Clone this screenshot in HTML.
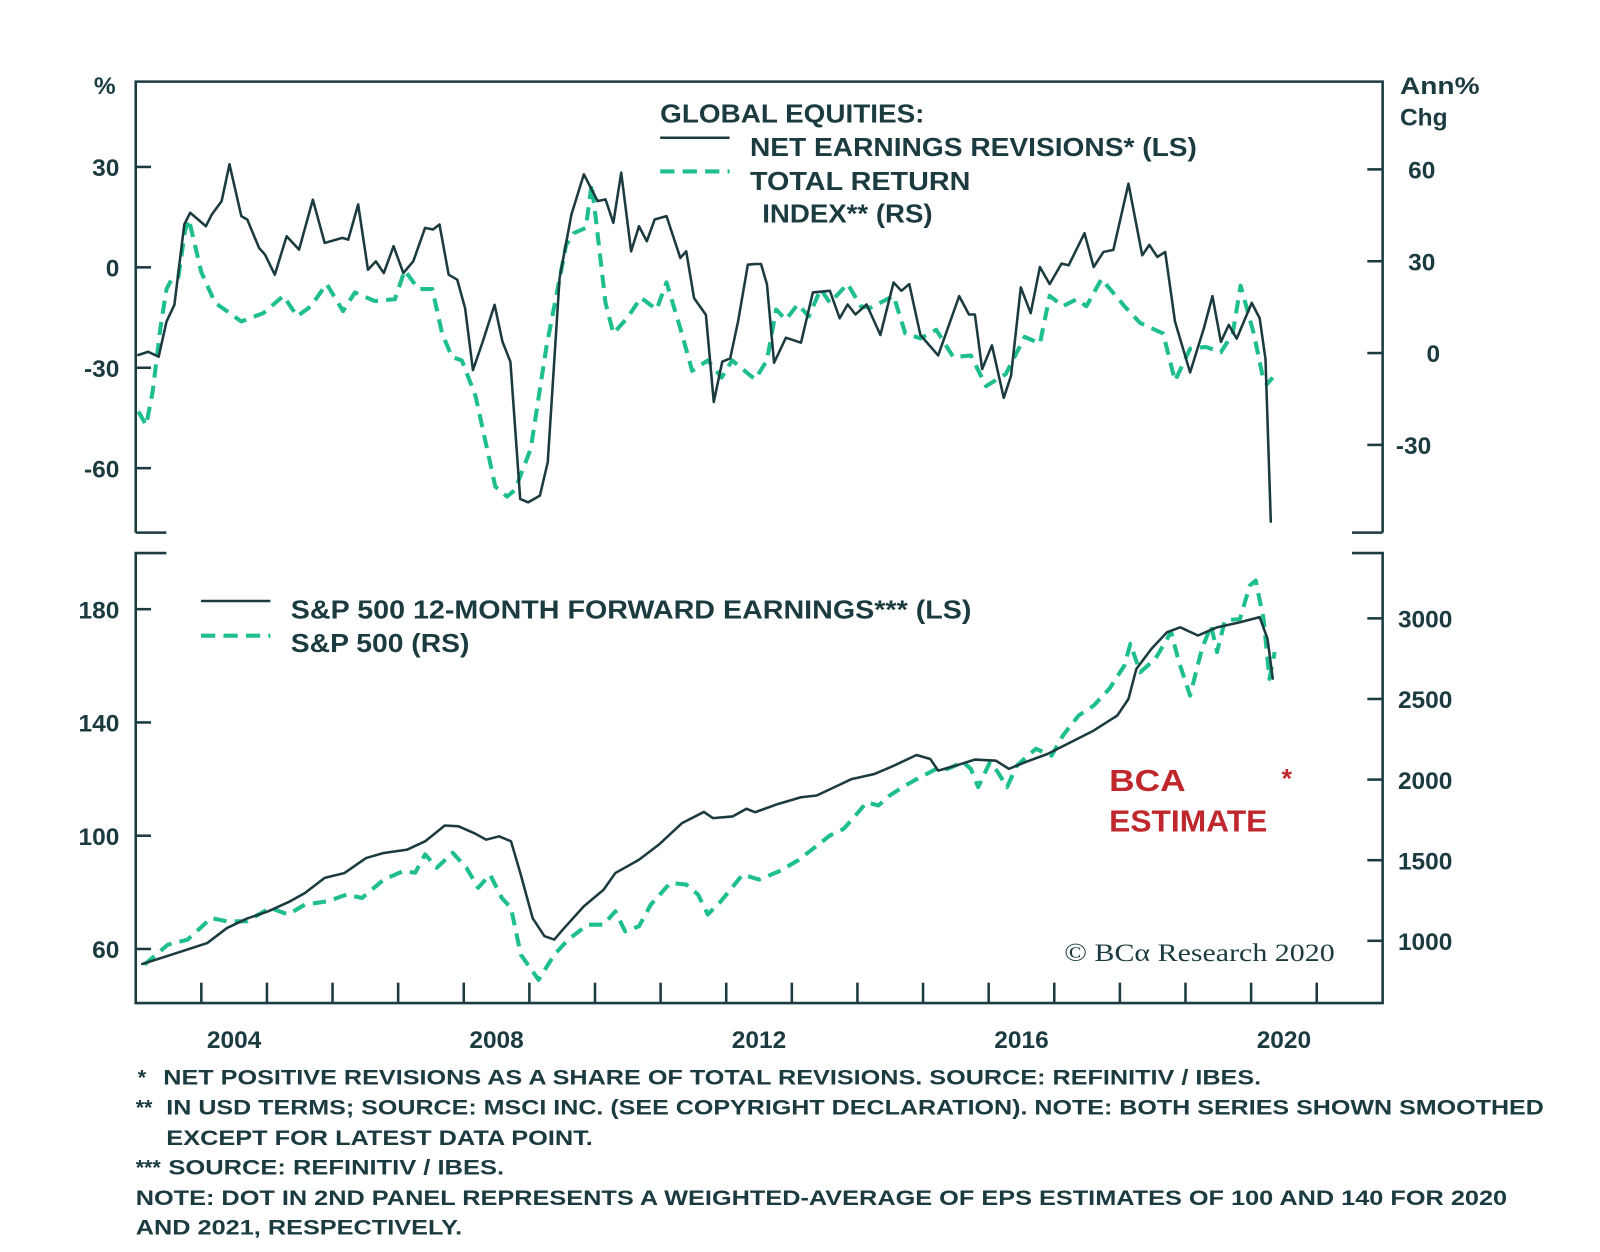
<!DOCTYPE html>
<html><head><meta charset="utf-8"><style>
html,body{margin:0;padding:0;background:#fff;}
svg text{font-family:"Liberation Sans",sans-serif;font-weight:bold;fill:#1b3b40;}
</style></head><body>
<svg id="chart" width="1600" height="1247" viewBox="0 0 1600 1247" xmlns="http://www.w3.org/2000/svg">
<g transform="scale(1.0204)">
<g id="frame" stroke="#1b3b40" stroke-width="2.5" fill="none">
<path d="M133,522 L133,80 L1355,80 L1355,522 M133,522 L163,522 M1325,522 L1355,522"/>
<path d="M163,542 L133,542 L133,983 L1355,983 L1355,542 L1325,542"/>
</g>
<g id="axes"></g>
<g id="series"></g>
<g>
<text x="647" y="120" font-size="25" textLength="259" lengthAdjust="spacingAndGlyphs">GLOBAL EQUITIES:</text>
<line x1="647" y1="135" x2="715" y2="135" stroke="#1b3b40" stroke-width="2.5"/>
<text x="735" y="153" font-size="25" textLength="438" lengthAdjust="spacingAndGlyphs">NET EARNINGS REVISIONS* (LS)</text>
<line x1="647" y1="168" x2="715" y2="168" stroke="#1fbf8d" stroke-width="4" stroke-dasharray="14 8"/>
<text x="735" y="186" font-size="25" textLength="216" lengthAdjust="spacingAndGlyphs">TOTAL RETURN</text>
<text x="747" y="218" font-size="25" textLength="167" lengthAdjust="spacingAndGlyphs">INDEX** (RS)</text>
</g>
<g>
<line x1="197" y1="589" x2="265" y2="589" stroke="#1b3b40" stroke-width="2.5"/>
<text x="285" y="606" font-size="25" textLength="667" lengthAdjust="spacingAndGlyphs">S&amp;P 500 12-MONTH FORWARD EARNINGS*** (LS)</text>
<line x1="197" y1="623" x2="265" y2="623" stroke="#1fbf8d" stroke-width="4" stroke-dasharray="14 8"/>
<text x="285" y="639" font-size="25" textLength="175" lengthAdjust="spacingAndGlyphs">S&amp;P 500 (RS)</text>
</g>
<text x="1087" y="775" font-size="30" textLength="75" lengthAdjust="spacingAndGlyphs" style="fill:#c0272d">BCA</text>
<text x="1087" y="815" font-size="30" textLength="155" lengthAdjust="spacingAndGlyphs" style="fill:#c0272d">ESTIMATE</text>
<text x="1256" y="772" font-size="26" style="fill:#c0272d">*</text>
<text x="1043" y="942" font-size="25" textLength="265" lengthAdjust="spacingAndGlyphs" style="font-family:'Liberation Serif',serif;font-weight:normal">© BCα Research 2020</text>
<text x="92" y="92" font-size="24">%</text>
<text x="1372" y="92" font-size="24" textLength="78" lengthAdjust="spacingAndGlyphs">Ann%</text>
<text x="1372" y="123" font-size="24">Chg</text>
<g font-size="21">
<text x="135" y="1063">*</text>
<text x="160" y="1063" textLength="1076" lengthAdjust="spacingAndGlyphs">NET POSITIVE REVISIONS AS A SHARE OF TOTAL REVISIONS. SOURCE: REFINITIV / IBES.</text>
<text x="133" y="1092">**</text>
<text x="163" y="1092" textLength="1350" lengthAdjust="spacingAndGlyphs">IN USD TERMS; SOURCE: MSCI INC. (SEE COPYRIGHT DECLARATION). NOTE: BOTH SERIES SHOWN SMOOTHED</text>
<text x="163" y="1122" textLength="418" lengthAdjust="spacingAndGlyphs">EXCEPT FOR LATEST DATA POINT.</text>
<text x="133" y="1151">***</text>
<text x="165" y="1151" textLength="329" lengthAdjust="spacingAndGlyphs">SOURCE: REFINITIV / IBES.</text>
<text x="133" y="1181" textLength="1344" lengthAdjust="spacingAndGlyphs">NOTE: DOT IN 2ND PANEL REPRESENTS A WEIGHTED-AVERAGE OF EPS ESTIMATES OF 100 AND 140 FOR 2020</text>
<text x="133" y="1210" textLength="320" lengthAdjust="spacingAndGlyphs">AND 2021, RESPECTIVELY.</text>
</g>
</g>
</svg>
<script>
const revT=[2003.04,2003.19,2003.35,2003.47,2003.59,2003.74,2003.83,2004.07,2004.16,2004.31,2004.43,2004.61,2004.70,2004.88,2004.97,2005.12,2005.30,2005.49,2005.70,2005.88,2006.15,2006.24,2006.39,2006.54,2006.66,2006.78,2006.93,2007.08,2007.23,2007.41,2007.53,2007.63,2007.77,2007.90,2008.02,2008.14,2008.29,2008.47,2008.59,2008.71,2008.86,2008.98,2009.16,2009.28,2009.46,2009.64,2009.83,2010.04,2010.16,2010.28,2010.40,2010.55,2010.67,2010.79,2010.91,2011.09,2011.30,2011.39,2011.51,2011.69,2011.81,2011.94,2012.06,2012.18,2012.33,2012.44,2012.53,2012.62,2012.73,2012.91,2013.14,2013.32,2013.58,2013.73,2013.85,2013.97,2014.14,2014.35,2014.55,2014.67,2014.79,2014.96,2015.23,2015.55,2015.70,2015.79,2015.90,2016.05,2016.23,2016.34,2016.49,2016.64,2016.78,2016.93,2017.11,2017.22,2017.46,2017.60,2017.75,2017.90,2018.13,2018.34,2018.45,2018.57,2018.69,2018.84,2019.07,2019.28,2019.41,2019.54,2019.66,2019.78,2020.01,2020.13,2020.22,2020.30];
const revV=[-26.2,-25.2,-26.7,-16.2,-11.2,12.8,16.3,12.3,15.8,19.8,30.8,15.3,14.3,5.8,3.8,-2.2,9.3,5.3,20.2,7.3,8.8,8.3,18.8,-0.7,1.8,-1.7,6.3,-1.7,1.8,11.8,11.3,12.8,-2.2,-3.7,-12.2,-30.7,-22.2,-11.2,-22.2,-28.2,-69.2,-70.2,-68.2,-58.2,-3.2,15.8,27.8,19.8,20.3,13.3,28.3,4.8,12.3,7.8,14.3,15.3,2.8,4.8,-9.2,-14.2,-40.2,-28.2,-27.2,-16.2,0.8,1,1,-5,-28.5,-21,-22.5,-7.5,-7,-15.2,-11.1,-14.1,-11.1,-20.2,-4.5,-7,-5,-20.2,-26.3,-8.6,-14.1,-14.1,-30.4,-23.3,-39,-32.4,-6,-13.7,0.1,-5,1.1,0.6,10.2,0.1,4.6,5.2,25,3.6,6.7,3.1,4.6,-16.2,-31.4,-18.2,-8.6,-22.3,-17.2,-21.3,-10.6,-15.2,-27.4,-76];
const tretT=[2003.04,2003.16,2003.26,2003.38,2003.47,2003.55,2003.65,2003.75,2003.81,2004.0,2004.21,2004.43,2004.61,2004.95,2005.25,2005.46,2005.67,2005.91,2006.16,2006.34,2006.64,2006.95,2007.10,2007.31,2007.52,2007.67,2007.82,2007.97,2008.18,2008.48,2008.66,2008.78,2009.02,2009.26,2009.56,2009.68,2009.86,2009.95,2010.04,2010.16,2010.28,2010.49,2010.70,2010.94,2011.09,2011.30,2011.48,2011.72,2011.93,2012.09,2012.44,2012.62,2012.76,2012.91,2013.09,2013.26,2013.44,2013.58,2013.85,2014.05,2014.20,2014.55,2014.73,2014.96,2015.20,2015.46,2015.73,2015.96,2016.26,2016.55,2016.78,2016.93,2017.13,2017.34,2017.49,2017.72,2018.07,2018.31,2018.66,2018.84,2019.07,2019.31,2019.54,2019.72,2019.84,2020.04,2020.18,2020.24,2020.33];
const tretV=[-19.1,-23.6,-12.4,8.7,20.9,24.2,24.8,39.8,43.7,26.4,16.4,13.1,10.3,13.1,18.7,12,15.3,22.6,13.7,19.8,17,17.6,27,20.9,20.9,6.4,-1.3,-2.4,-14.1,-43.6,-46.9,-44.7,-31.3,2,35.3,39.2,40.9,55.3,38.7,16.4,6.4,11.4,18.1,14.2,23.1,8.1,-5.8,-2.4,-8,-2.4,-8.6,-2.4,14.2,10.9,15.9,12,20.9,16.4,22.6,15.3,14.8,18.7,6.4,4.8,7.6,-1.3,-0.8,-10.8,-6.9,5.3,3.1,18.7,15.3,17.6,15.3,24.2,15.3,9.8,6.4,-9.1,1.4,2,0.3,6.4,22,6.4,-8,-10.2,-8];
const epsT=[2003.10,2003.55,2004.09,2004.39,2004.69,2005.02,2005.35,2005.58,2005.88,2006.18,2006.51,2006.78,2007.14,2007.41,2007.71,2007.92,2008.16,2008.34,2008.54,2008.72,2008.87,2009.05,2009.23,2009.38,2009.53,2009.83,2010.13,2010.31,2010.67,2010.97,2011.33,2011.66,2011.80,2012.10,2012.31,2012.44,2012.79,2013.14,2013.38,2013.70,2013.91,2014.26,2014.55,2014.90,2015.11,2015.23,2015.49,2015.79,2016.11,2016.31,2016.55,2016.90,2017.25,2017.60,2017.96,2018.13,2018.25,2018.48,2018.72,2018.92,2019.19,2019.48,2019.83,2020.13,2020.25,2020.33];
const epsV=[54.7,58,62.1,67.4,70.7,73.3,76.8,79.8,85.1,86.8,92.1,93.9,95.1,98,103.6,103.3,100.9,98.6,99.8,98,86.2,70.9,64.5,63.3,67.4,75.1,80.9,86.8,91.5,96.8,104.5,108.4,106.2,106.8,109.5,108.3,111.2,113.6,114.2,117.7,120,121.8,124.7,128.5,127.1,123,124.7,126.9,126.5,123.6,125.9,128.9,133,137.1,142.4,148.3,158.9,166,171.9,173.6,170.7,173.6,175.4,177.2,169.5,155.5];
const spxT=[2003.13,2003.49,2003.79,2004.15,2004.39,2004.69,2005.05,2005.32,2005.58,2005.94,2006.21,2006.45,2006.78,2007.08,2007.26,2007.41,2007.59,2007.83,2008.04,2008.22,2008.40,2008.58,2008.72,2008.87,2009.14,2009.38,2009.59,2009.89,2010.13,2010.31,2010.46,2010.67,2010.85,2011.15,2011.39,2011.57,2011.72,2011.92,2012.25,2012.5,2012.8,2013.1,2013.35,2013.58,2013.79,2013.97,2014.14,2014.32,2014.49,2014.73,2014.96,2015.20,2015.37,2015.61,2015.73,2015.84,2016.02,2016.14,2016.28,2016.43,2016.72,2016.96,2017.13,2017.37,2017.60,2017.84,2018.07,2018.16,2018.31,2018.54,2018.78,2018.90,2019.07,2019.25,2019.39,2019.48,2019.60,2019.83,2019.98,2020.07,2020.19,2020.28,2020.36];
const spxV=[852,976,1007,1142,1121,1121,1204,1163,1225,1246,1287,1266,1380,1432,1422,1536,1453,1546,1453,1329,1411,1266,1204,914,758,914,1007,1100,1100,1183,1059,1090,1225,1360,1349,1287,1163,1246,1411,1380,1430,1500,1580,1653,1694,1777,1859,1839,1901,1963,2015,2066,2066,2108,2066,1953,2108,2046,1953,2087,2191,2149,2273,2397,2459,2563,2708,2842,2666,2749,2915,2729,2521,2811,2956,2791,2987,2997,3204,3235,2997,2625,2791];
const topLeftTicks=[30,0,-30,-60];
const topRightTicks=[60,30,0,-30];
const botLeftTicks=[180,140,100,60];
const botRightTicks=[3000,2500,2000,1500,1000];
const yearTicks=[2004,2005,2006,2007,2008,2009,2010,2011,2012,2013,2014,2015,2016,2017,2018,2019,2020,2021];
const yearLabels=[2004,2008,2012,2016,2020];

const NS='http://www.w3.org/2000/svg';
const X=t=>133+(t-2003)*64.3;
const yTL=v=>262-v*3.28;
const yTR=v=>346-v*3;
const yBL=v=>930-(v-60)*2.775;
const yBR=v=>922-(v-1000)*0.158;
const axes=document.getElementById('axes');
const series=document.getElementById('series');
function mk(tag,attrs,parent){const e=document.createElementNS(NS,tag);for(const k in attrs)e.setAttribute(k,attrs[k]);parent.appendChild(e);return e;}
const tk={stroke:'#1b3b40','stroke-width':2.5};
topLeftTicks.forEach(v=>{
  const l=mk('line',Object.assign({x1:133,x2:148,y1:yTL(v),y2:yTL(v)},tk),axes);
  
  
  const t=mk('text',{x:117,y:yTL(v)+9,'text-anchor':'end','font-size':24},axes);t.textContent=v;
  
  
});
topRightTicks.forEach(v=>{
  const l=mk('line',Object.assign({x1:1340,x2:1355,y1:yTR(v),y2:yTR(v)},tk),axes);
  
  
  const t=mk('text',{x:v<0?1368:(v==0?1398:1380),y:yTR(v)+9,'font-size':24},axes);t.textContent=v;
  
  
});
botLeftTicks.forEach(v=>{
  const l=mk('line',Object.assign({x1:133,x2:148,y1:yBL(v),y2:yBL(v)},tk),axes);
  
  
  const t=mk('text',{x:117,y:yBL(v)+9,'text-anchor':'end','font-size':24},axes);t.textContent=v;
  
  
});
botRightTicks.forEach(v=>{
  const l=mk('line',Object.assign({x1:1340,x2:1355,y1:yBR(v),y2:yBR(v)},tk),axes);
  
  
  const t=mk('text',{x:1370,y:yBR(v)+9,'font-size':24},axes);t.textContent=v;
  
  
});
yearTicks.forEach(y=>{
  const l=mk('line',Object.assign({x1:X(y),x2:X(y),y1:963,y2:983},tk),axes);
  
  
});
yearLabels.forEach(y=>{
  const t=mk('text',{x:X(y+0.5),y:1027,'text-anchor':'middle','font-size':24},axes);t.textContent=y;
  
  
});
function line(ts,vs,yf,dashed){
  const pts=ts.map((t,i)=>X(t).toFixed(1)+','+yf(vs[i]).toFixed(1)).join(' ');
  const a={points:pts,fill:'none','stroke-linejoin':'round','stroke-linecap':'round'};
  if(dashed){a.stroke='#1fbf8d';a['stroke-width']=4;a['stroke-dasharray']='13 8';a['stroke-linecap']='butt';}
  else{a.stroke='#1b3b40';a['stroke-width']=2.5;}
  return mk('polyline',a,series);
}
let s;
s=line(tretT,tretV,yTR,true);


s=line(revT,revV,yTL,false);


s=line(spxT,spxV,yBR,true);


s=line(epsT,epsV,yBL,false);


</script>
</body></html>
